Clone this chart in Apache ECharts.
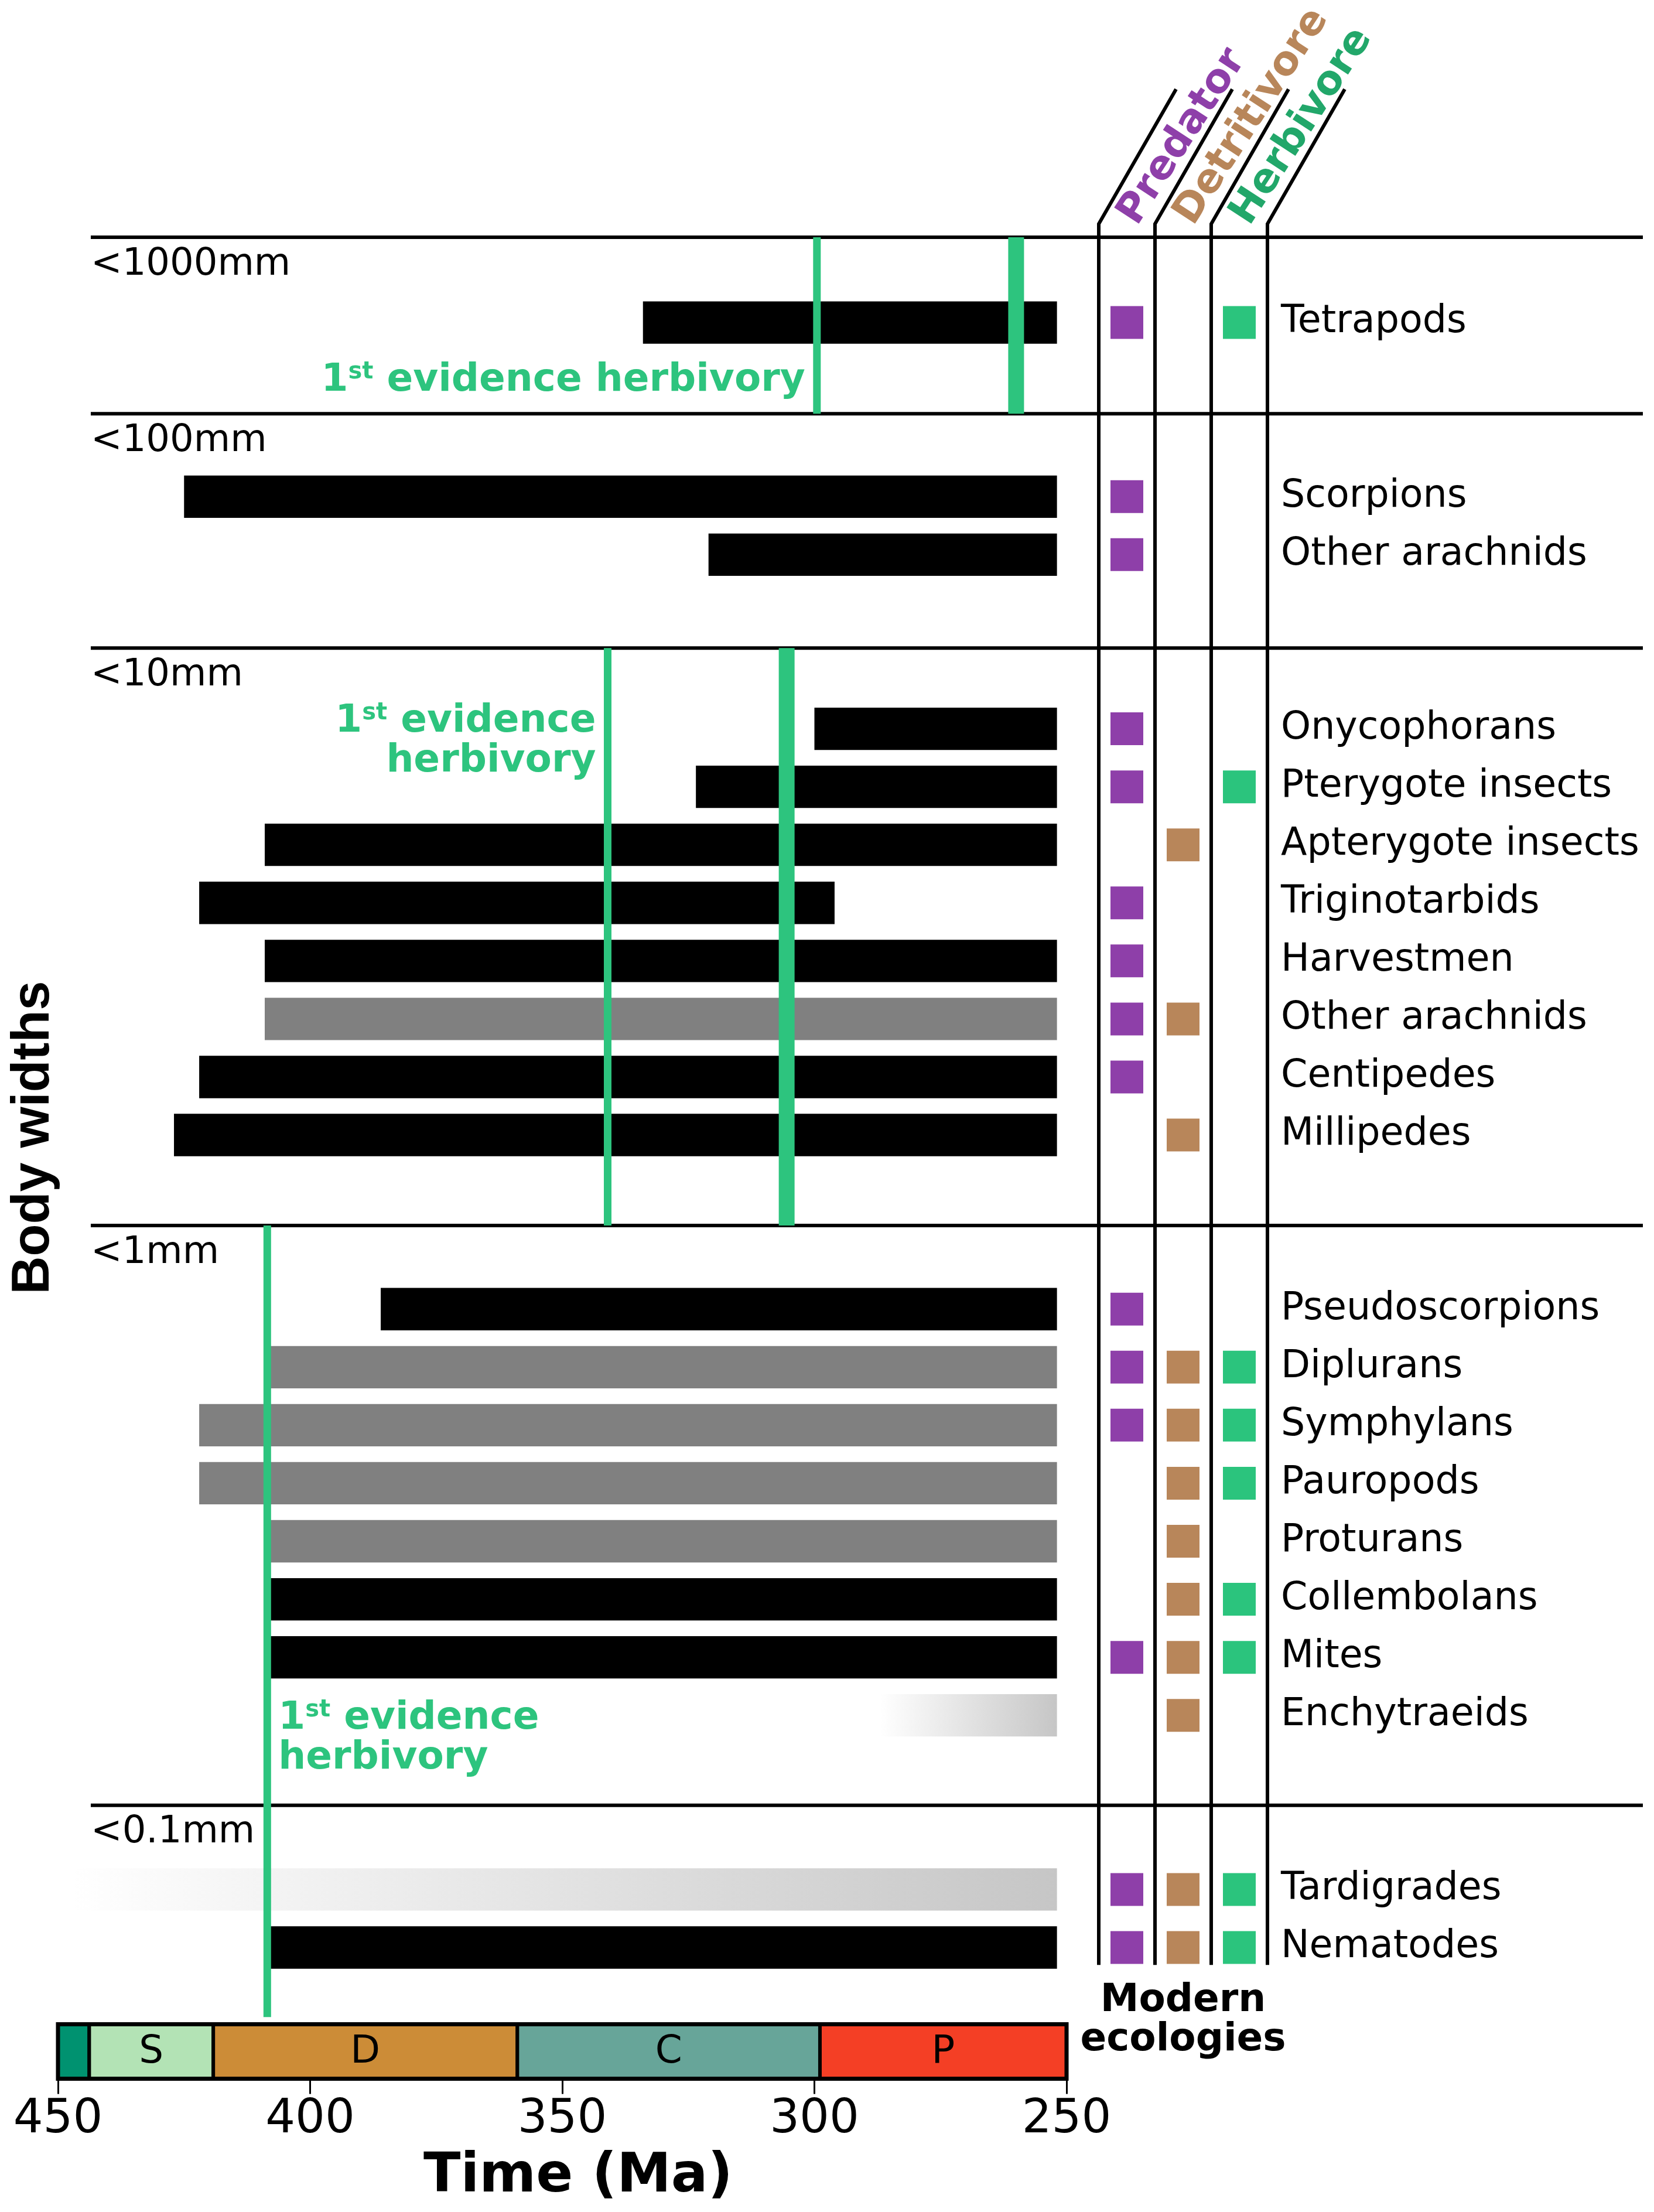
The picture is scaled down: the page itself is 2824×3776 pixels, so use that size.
<!DOCTYPE html>
<html>
<head>
<meta charset="utf-8">
<script src="https://cdn.jsdelivr.net/npm/echarts@6/dist/echarts.min.js"></script>
<style>
html,body{margin:0;padding:0;background:#ffffff;}
#c{width:2824px;height:3776px;}
</style>
</head>
<body>
<div id="c"></div>
<script>
// ---------------- DATA ----------------
const taxa = ['Tetrapods','Scorpions','Other arachnids','Onycophorans','Pterygote insects','Apterygote insects',
  'Triginotarbids','Harvestmen','Other arachnids','Centipedes','Millipedes','Pseudoscorpions','Diplurans',
  'Symphylans','Pauropods','Proturans','Collembolans','Mites','Enchytraeids','Tardigrades','Nematodes'];
// row position (rows of equal spacing, gaps between body-width classes)
const rowSlot = [0,3,4,7,8,9,10,11,12,13,14,17,18,19,20,21,22,23,24,27,28];
// first fossil record (Ma) and end of range (Ma)
const firstRecordMa = [334,425,321,300,323.5,409,422,409,409,422,427,386,409,422,422,409,409,409,287,447,409];
const lastRecordMa  = [251.9,251.9,251.9,251.9,251.9,251.9,296,251.9,251.9,251.9,251.9,251.9,251.9,251.9,251.9,251.9,251.9,251.9,251.9,251.9,251.9];
// record quality: solid = black, grey = grey, fade = gradient
const recordKind = ['solid','solid','solid','solid','solid','solid','solid','solid','grey','solid','solid',
  'solid','grey','grey','grey','grey','solid','solid','fade','fade','solid'];
// modern ecologies
const isPredator    = [1,1,1,1,1,0,1,1,1,1,0,1,1,1,0,0,0,1,0,1,1];
const isDetritivore = [0,0,0,0,0,1,0,0,1,0,1,0,1,1,1,1,1,1,1,1,1];
const isHerbivore   = [1,0,0,0,1,0,0,0,0,0,0,0,1,1,1,0,1,1,0,1,1];
const ecologyNames = ['Predator','Detritivore','Herbivore'];
// body width classes
const sizeClassLabels = ['<1000mm','<100mm','<10mm','<1mm','<0.1mm'];
const sizeClassTopSlot = [-1.47, 1.57, 5.61, 15.56, 25.55];
// first evidence of herbivory lines
const herbivoryMa       = [299.5, 260, 341, 305.5, 408.5];
const herbivoryFromSlot = [-1.47, -1.47, 5.61, 5.61, 15.56];
const herbivoryToSlot   = [1.57, 1.57, 15.56, 15.56, 29.2];
const herbivoryHeavy    = [0, 1, 0, 1, 0];
// annotations
const noteMa = [299.5, 341, 408.5];
const noteSlot = [1.0, 7.22, 24.4];
const noteSide = ['left','left','right'];
const noteLines = [['1st evidence herbivory'], ['1st evidence','herbivory'], ['1st evidence','herbivory']];
// geological periods
const periodNames = ['', 'S', 'D', 'C', 'P'];
const periodStartMa = [450, 443.8, 419.2, 358.9, 298.9];
const periodEndMa   = [443.8, 419.2, 358.9, 298.9, 250];
const periodColors  = ['#009270', '#b3e3b5', '#cc8c37', '#67a599', '#f43f25'];

// ---------------- STYLE ----------------
const FONT = '"DejaVu Sans", "Noto Sans", sans-serif';
const GREEN = '#2dc47e';
const ECO_COLORS = ['#8e3fa9', '#b8865a', '#2bc47d'];
const ECO_TEXT = ['#8e3fa9', '#b8865a', '#22a76a'];
const kindFill = {
  solid: '#000000',
  grey: '#808080',
  fade: new echarts.graphic.LinearGradient(0, 0, 1, 0, [{offset: 0, color: '#ffffff'}, {offset: 1, color: '#c6c6c6'}])
};

const chart = echarts.init(document.getElementById('c'), null, {renderer: 'canvas', width: 2824, height: 3776});

const barData = taxa.map((t, i) => [firstRecordMa[i], lastRecordMa[i], rowSlot[i], i]);
const dividerData = sizeClassTopSlot.map((s, i) => [s, i]);
const herbData = herbivoryMa.map((m, i) => [m, herbivoryFromSlot[i], herbivoryToSlot[i], herbivoryHeavy[i]]);
const noteData = noteMa.map((m, i) => [m, noteSlot[i], i]);
const periodData = periodNames.map((n, i) => [periodStartMa[i], periodEndMa[i], i]);
const labelData = taxa.map((t, i) => [1, rowSlot[i], i]);
function ecoPoints(flags, k) {
  const out = [];
  flags.forEach((f, i) => { if (f) out.push([k, rowSlot[i]]); });
  return out;
}

function renderBar(params, api) {
  const i = api.value(3);
  const p0 = api.coord([api.value(0), api.value(2)]);
  const p1 = api.coord([api.value(1), api.value(2)]);
  const h = Math.abs(api.size([0, 0.73])[1]);
  return {
    type: 'rect',
    shape: {x: p0[0], y: p0[1] - h / 2, width: p1[0] - p0[0], height: h},
    style: {fill: kindFill[recordKind[i]]}
  };
}

function renderDivider(params, api) {
  const idx = api.value(1);
  const p = api.coord([450, api.value(0)]);
  const x0 = p[0] + 56;
  const x1 = api.getWidth() - 19;
  return {
    type: 'group',
    children: [
      {type: 'line', shape: {x1: x0, y1: p[1], x2: x1, y2: p[1]}, style: {stroke: '#000', lineWidth: 6}},
      {type: 'text', x: x0, y: p[1] + 47,
        style: {text: sizeClassLabels[idx], font: '64px ' + FONT, fill: '#000',
          align: 'left', verticalAlign: 'middle', textAlign: 'left', textVerticalAlign: 'middle'}}
    ]
  };
}

function renderHerb(params, api) {
  const a = api.coord([api.value(0), api.value(1)]);
  const b = api.coord([api.value(0), api.value(2)]);
  const w = api.value(3) ? 27 : 13;
  return {
    type: 'rect',
    shape: {x: a[0] - w / 2, y: a[1], width: w, height: b[1] - a[1]},
    style: {fill: GREEN}
  };
}

function richLine(line) {
  if (line.indexOf('1st') === 0) return '{n|1}{s|st}{n|' + line.slice(3) + '}';
  return '{n|' + line + '}';
}

function renderNote(params, api) {
  const i = api.value(2);
  const p = api.coord([api.value(0), api.value(1)]);
  const lines = noteLines[i];
  const left = noteSide[i] === 'left';
  const x = left ? p[0] - 20 : p[0] + 19;
  const children = lines.map((ln, j) => ({
    type: 'text',
    x: x,
    y: p[1] + (j - (lines.length - 1) / 2) * 68,
    style: {
      text: richLine(ln),
      align: left ? 'right' : 'left', textAlign: left ? 'right' : 'left',
      verticalAlign: 'middle', textVerticalAlign: 'middle',
      font: 'bold 66px ' + FONT, fill: GREEN,
      rich: {
        n: {fontSize: 66, fontWeight: 'bold', fontFamily: FONT, fill: GREEN, color: GREEN, lineHeight: 68},
        s: {fontSize: 40, fontWeight: 'bold', fontFamily: FONT, fill: GREEN, color: GREEN, lineHeight: 68, verticalAlign: 'top'}
      }
    }
  }));
  return {type: 'group', children: children};
}

function renderPeriod(params, api) {
  const i = api.value(2);
  const a = api.coord([api.value(0), 1]);
  const b = api.coord([api.value(1), 0]);
  return {
    type: 'group',
    children: [
      {type: 'rect', shape: {x: a[0], y: a[1], width: b[0] - a[0], height: b[1] - a[1]},
        style: {fill: periodColors[i], stroke: '#000', lineWidth: 6}},
      {type: 'text', x: (a[0] + b[0]) / 2, y: (a[1] + b[1]) / 2 + 2,
        style: {text: periodNames[i], font: '66px ' + FONT, fill: '#000',
          align: 'center', verticalAlign: 'middle', textAlign: 'center', textVerticalAlign: 'middle'}}
    ]
  };
}

function renderFrame(params, api) {
  const a = api.coord([api.value(0), 1]);
  const b = api.coord([api.value(1), 0]);
  return {type: 'rect', shape: {x: a[0], y: a[1], width: b[0] - a[0], height: b[1] - a[1]},
    style: {fill: 'none', stroke: '#000', lineWidth: 7}};
}

function renderColumn(params, api) {
  const k = api.value(0);
  const band = api.size([1, 0])[0];
  const c = api.coord([k, -1.7]);
  const bottom = api.coord([k, 28.3])[1];
  const bx = c[0] - band / 2;
  const children = [];
  const addLine = (x) => children.push({
    type: 'polyline',
    shape: {points: [[x + 132, c[1] - 230], [x, c[1]], [x, bottom]]},
    style: {stroke: '#000', lineWidth: 6, fill: null}
  });
  addLine(bx);
  if (k === ecologyNames.length - 1) addLine(bx + band);
  const t = api.coord([k, -1.75]);
  children.push({
    type: 'text', x: t[0] + 2, y: t[1], rotation: 57 * Math.PI / 180,
    style: {text: ecologyNames[k], font: 'bold 69px ' + FONT, fill: ECO_TEXT[k],
      align: 'left', verticalAlign: 'middle', textAlign: 'left', textVerticalAlign: 'middle'}
  });
  return {type: 'group', children: children};
}

function renderRowLabel(params, api) {
  const i = api.value(2);
  const band = api.size([1, 0])[0];
  const p = api.coord([2, api.value(1)]);
  return {
    type: 'text', x: p[0] + band / 2 + 23, y: p[1],
    style: {text: taxa[i], font: '65px ' + FONT, fill: '#000',
      align: 'left', verticalAlign: 'middle', textAlign: 'left', textVerticalAlign: 'middle'}
  };
}

const option = {
  backgroundColor: '#ffffff',
  animation: false,
  grid: [
    {left: 99, right: 1003, top: 402, height: 2972},
    {left: 99, right: 1003, top: 3455.5, height: 93},
    {left: 1876, right: 660, top: 402, height: 2972}
  ],
  xAxis: [
    {gridIndex: 0, type: 'value', min: 250, max: 450, inverse: true, show: false},
    {gridIndex: 1, type: 'value', min: 250, max: 450, interval: 50, inverse: true,
      axisLine: {show: false}, splitLine: {show: false},
      axisTick: {show: true, length: 26, lineStyle: {color: '#000', width: 3}},
      axisLabel: {fontSize: 80, fontFamily: FONT, color: '#000', margin: 31},
      name: 'Time (Ma)', nameLocation: 'middle', nameGap: 122,
      nameTextStyle: {fontSize: 93, fontWeight: 'bold', fontFamily: FONT, color: '#000', padding: [0, 0, 0, 54]}},
    {gridIndex: 2, type: 'category', data: ecologyNames, show: false}
  ],
  yAxis: [
    {gridIndex: 0, type: 'value', min: -1.5, max: 28.5, inverse: true, show: false},
    {gridIndex: 1, type: 'value', min: 0, max: 1, show: false},
    {gridIndex: 2, type: 'value', min: -1.5, max: 28.5, inverse: true, show: false}
  ],
  graphic: [
    {type: 'text', x: 58, y: 1942, rotation: Math.PI / 2,
      style: {text: 'Body widths', font: 'bold 90px "Liberation Sans", Arial, sans-serif', fill: '#000',
        align: 'center', verticalAlign: 'middle', textAlign: 'center', textVerticalAlign: 'middle'}},
    {type: 'text', x: 2020, y: 3449,
      style: {text: 'Modern\necologies', font: 'bold 66px ' + FONT, fill: '#000', lineHeight: 67,
        align: 'center', verticalAlign: 'middle', textAlign: 'center', textVerticalAlign: 'middle'}}
  ],
  series: [
    {type: 'custom', name: 'classes', xAxisIndex: 0, yAxisIndex: 0, clip: false, z: 1,
      renderItem: renderDivider, data: dividerData},
    {type: 'custom', name: 'ranges', xAxisIndex: 0, yAxisIndex: 0, clip: false, z: 2,
      renderItem: renderBar, data: barData},
    {type: 'custom', name: 'herbivory', xAxisIndex: 0, yAxisIndex: 0, clip: false, z: 3,
      renderItem: renderHerb, data: herbData},
    {type: 'custom', name: 'notes', xAxisIndex: 0, yAxisIndex: 0, clip: false, z: 4,
      renderItem: renderNote, data: noteData},
    {type: 'custom', name: 'periods', xAxisIndex: 1, yAxisIndex: 1, clip: false, z: 2,
      renderItem: renderPeriod, data: periodData},
    {type: 'custom', name: 'frame', xAxisIndex: 1, yAxisIndex: 1, clip: false, z: 3,
      renderItem: renderFrame, data: [[450, 250]]},
    {type: 'custom', name: 'columns', xAxisIndex: 2, yAxisIndex: 2, clip: false, z: 2,
      renderItem: renderColumn, data: ecologyNames.map((n, k) => [k])},
    {type: 'custom', name: 'labels', xAxisIndex: 2, yAxisIndex: 2, clip: false, z: 2,
      renderItem: renderRowLabel, data: labelData},
    {type: 'scatter', name: 'Predator', xAxisIndex: 2, yAxisIndex: 2, symbol: 'rect', symbolSize: 56, z: 3,
      itemStyle: {color: ECO_COLORS[0], opacity: 1}, data: ecoPoints(isPredator, 0)},
    {type: 'scatter', name: 'Detritivore', xAxisIndex: 2, yAxisIndex: 2, symbol: 'rect', symbolSize: 56, z: 3,
      itemStyle: {color: ECO_COLORS[1], opacity: 1}, data: ecoPoints(isDetritivore, 1)},
    {type: 'scatter', name: 'Herbivore', xAxisIndex: 2, yAxisIndex: 2, symbol: 'rect', symbolSize: 56, z: 3,
      itemStyle: {color: ECO_COLORS[2], opacity: 1}, data: ecoPoints(isHerbivore, 2)}
  ]
};
chart.setOption(option);
</script>
</body>
</html>
